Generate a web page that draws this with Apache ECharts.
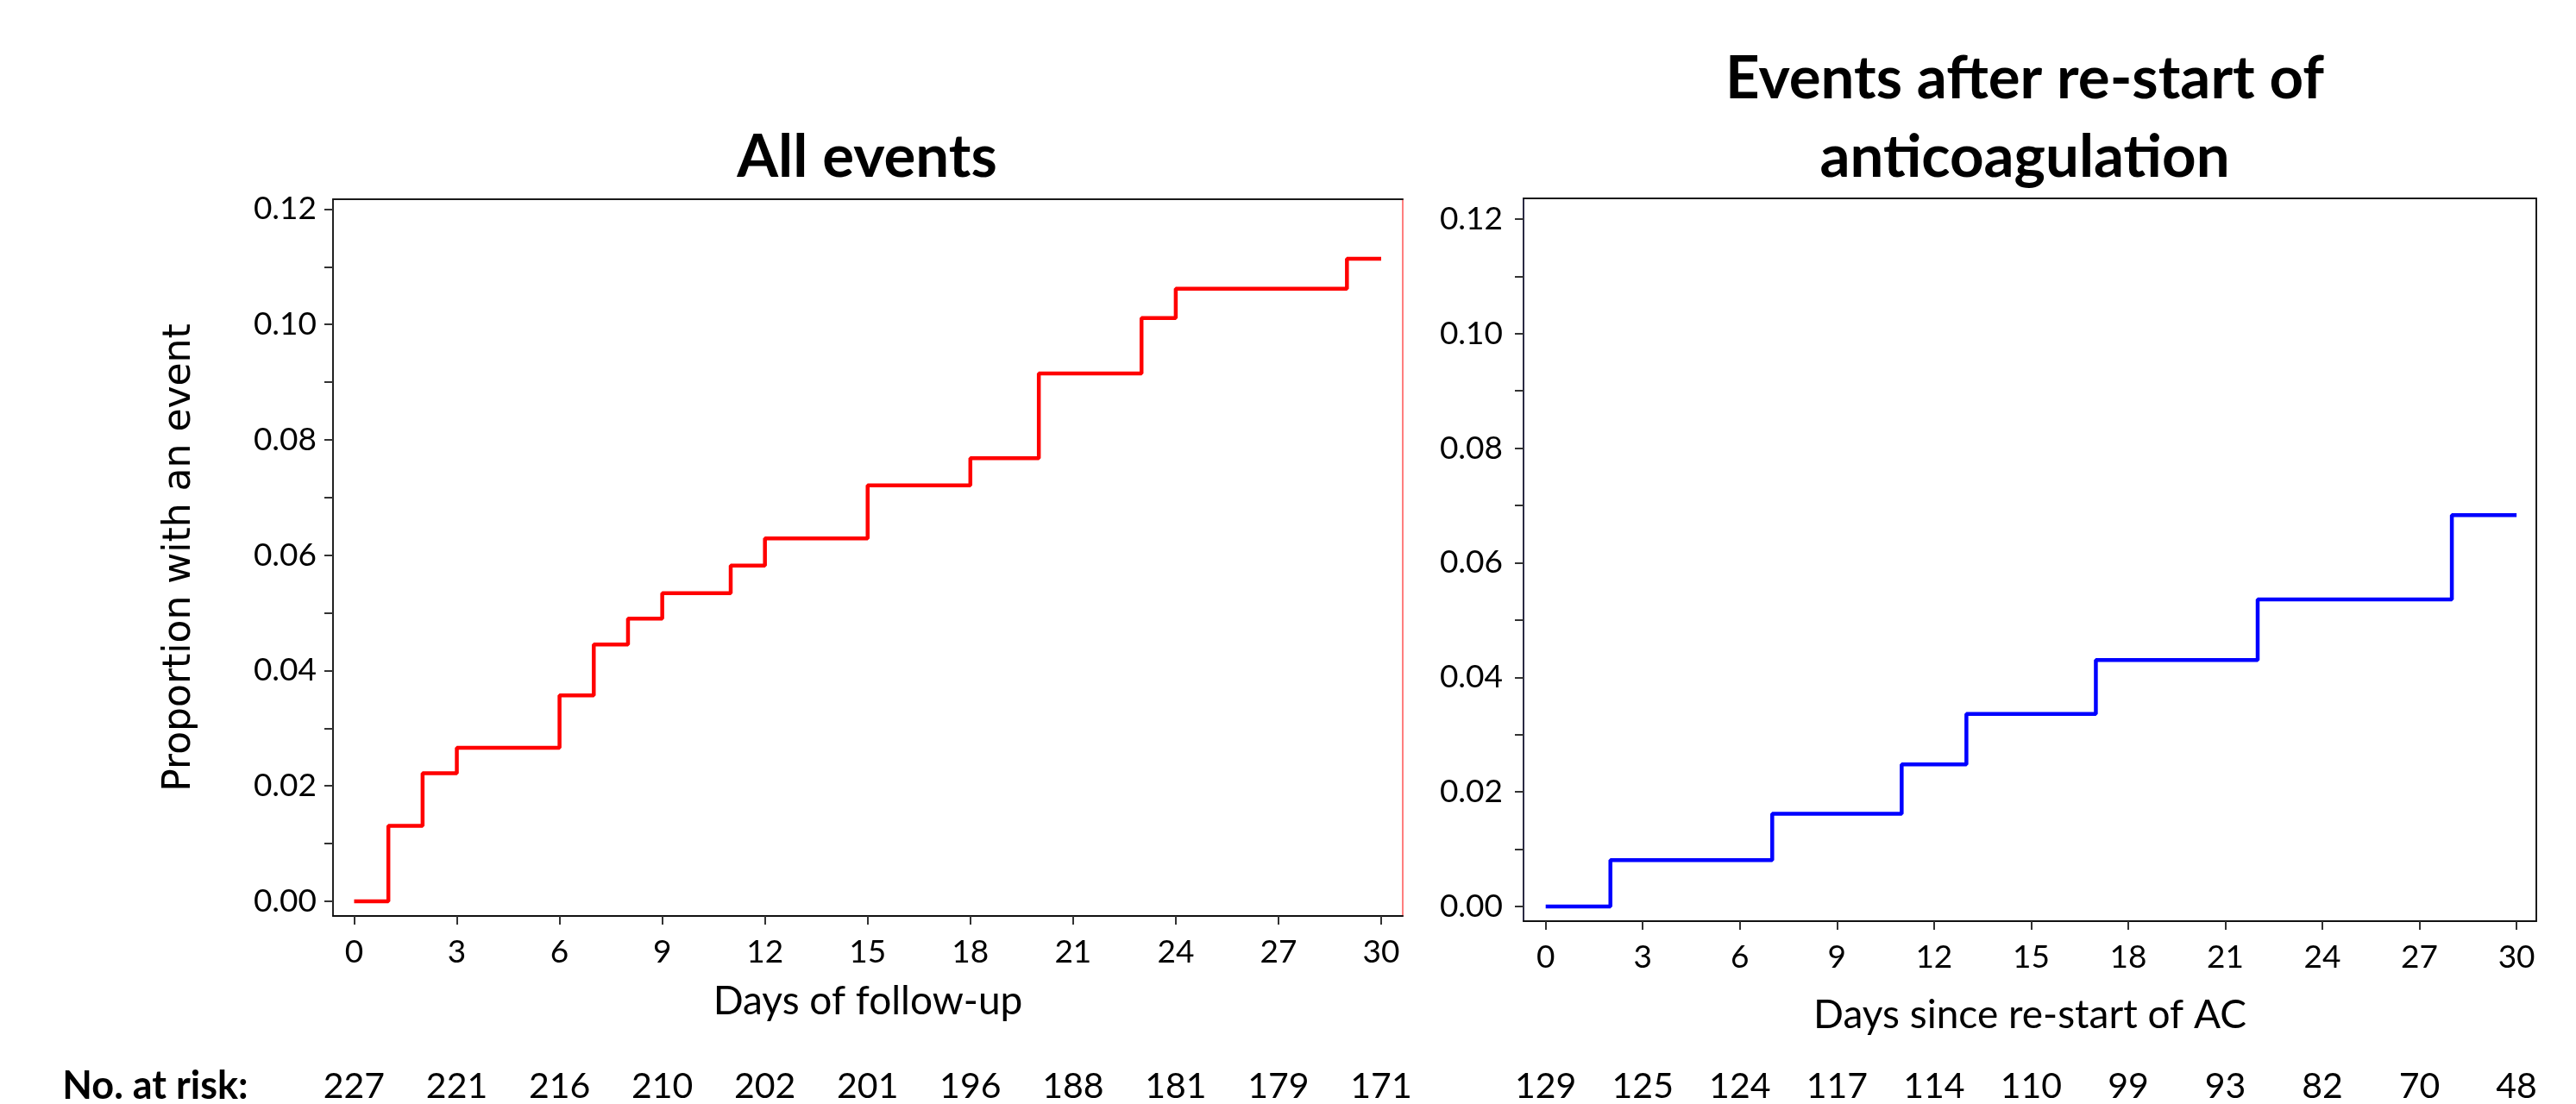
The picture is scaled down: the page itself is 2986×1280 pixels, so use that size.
<!DOCTYPE html>
<html>
<head>
<meta charset="utf-8">
<script src="https://cdn.jsdelivr.net/npm/echarts@6/dist/echarts.min.js"></script>
<style>
html,body{margin:0;padding:0;background:#fff;}
#chart{width:2986px;height:1280px;}
</style>
</head>
<body>
<div id="chart"></div>
<script>
// ---------- data ----------
const xTickDays = [0, 3, 6, 9, 12, 15, 18, 21, 24, 27, 30];
const yTickLabels = [0, 0.02, 0.04, 0.06, 0.08, 0.10, 0.12];
const yTickMarks = [0, 0.01, 0.02, 0.03, 0.04, 0.05, 0.06, 0.07, 0.08, 0.09, 0.10, 0.11, 0.12];

const allDays = [0, 1, 2, 3, 6, 7, 8, 9, 11, 12, 15, 18, 20, 23, 24, 29, 30];
const allProp = [0, 0.0131, 0.0222, 0.0266, 0.0357, 0.0445, 0.0490, 0.0534, 0.0582, 0.0629, 0.0721, 0.0768, 0.0915, 0.1011, 0.1062, 0.1114, 0.1114];

const acDays = [0, 2, 7, 11, 13, 17, 22, 28, 30];
const acProp = [0, 0.0081, 0.0162, 0.0248, 0.0336, 0.0430, 0.0536, 0.0683, 0.0683];

const atRiskAll = [227, 221, 216, 210, 202, 201, 196, 188, 181, 179, 171];
const atRiskAC = [129, 125, 124, 117, 114, 110, 99, 93, 82, 70, 48];

const titleAll = 'All events';
const titleAC1 = 'Events after re-start of';
const titleAC2 = 'anticoagulation';
const xNameAll = 'Days of follow-up';
const xNameAC = 'Days since re-start of AC';
const yName = 'Proportion with an event';
const riskLabel = 'No. at risk:';

// ---------- chart ----------
const FONT = 'Lato';
const chart = echarts.init(document.getElementById('chart'), null, {renderer: 'canvas'});

function zip(xs, ys) { return xs.map((x, i) => [x, ys[i]]); }

const panels = [
  {grid: {left: 386, top: 231, width: 1240, height: 831},
   xmin: -0.617, xmax: 30.63, ymin: -0.00254, ymax: 0.1217,
   xName: xNameAll, xNameGap: 76, yName: yName, risk: atRiskAll, riskOffset: 150,
   rightColor: '#ff7f7f', leftColor: '#222', topColor: '#1a1a1a', yLabelMargin: 19,
   color: '#ff0000', data: zip(allDays, allProp)},
  {grid: {left: 1766, top: 230, width: 1174, height: 838},
   xmin: -0.685, xmax: 30.61, ymin: -0.00256, ymax: 0.1236,
   xName: xNameAC, xNameGap: 86, yName: '', risk: atRiskAC, riskOffset: 144,
   rightColor: '#1a1a1a', leftColor: '#2a2a44', topColor: '#1a1a1a', yLabelMargin: 24,
   color: '#0000ff', data: zip(acDays, acProp)}
];

const grids = [], xAxes = [], yAxes = [], series = [];
panels.forEach((p, i) => {
  grids.push(Object.assign({containLabel: false}, p.grid));
  const xBase = xAxes.length, yBase = yAxes.length;
  // main bottom x axis
  xAxes.push({
    type: 'value', gridIndex: i, position: 'bottom', min: p.xmin, max: p.xmax,
    name: p.xName, nameLocation: 'middle', nameGap: p.xNameGap,
    nameTextStyle: {fontFamily: FONT, fontSize: 46, color: '#000'},
    axisLine: {show: true, onZero: false, lineStyle: {color: '#111', width: 2}},
    axisTick: {show: true, length: 10, customValues: xTickDays, lineStyle: {color: '#333', width: 2}},
    axisLabel: {show: true, customValues: xTickDays, margin: 24, fontFamily: FONT, fontSize: 37, color: '#000'},
    splitLine: {show: false}
  });
  // top border
  xAxes.push({
    type: 'value', gridIndex: i, position: 'top', min: p.xmin, max: p.xmax,
    axisLine: {show: true, onZero: false, lineStyle: {color: p.topColor, width: 2}},
    axisTick: {show: false}, axisLabel: {show: false}, splitLine: {show: false}
  });
  // number at risk row
  xAxes.push({
    type: 'value', gridIndex: i, position: 'bottom', offset: p.riskOffset, min: p.xmin, max: p.xmax,
    axisLine: {show: false}, axisTick: {show: false}, splitLine: {show: false},
    axisLabel: {show: true, customValues: xTickDays, margin: 27, fontFamily: FONT, fontSize: 41, color: '#000',
      formatter: (v) => String(p.risk[Math.round(v / 3)])}
  });
  // left y axis
  yAxes.push({
    type: 'value', gridIndex: i, position: 'left', min: p.ymin, max: p.ymax,
    name: p.yName, nameLocation: 'middle', nameGap: 155, nameRotate: 90,
    nameTextStyle: {fontFamily: 'DejaVu Sans', fontSize: 44, color: '#000'},
    axisLine: {show: true, onZero: false, lineStyle: {color: p.leftColor, width: 2}},
    axisTick: {show: true, length: 10, customValues: yTickMarks, lineStyle: {color: '#333', width: 2}},
    axisLabel: {show: true, customValues: yTickLabels, margin: p.yLabelMargin, fontFamily: FONT, fontSize: 37, color: '#000',
      formatter: (v) => v.toFixed(2)},
    splitLine: {show: false}
  });
  // right border
  yAxes.push({
    type: 'value', gridIndex: i, position: 'right', min: p.ymin, max: p.ymax,
    axisLine: {show: true, onZero: false, lineStyle: {color: p.rightColor, width: 2}},
    axisTick: {show: false}, axisLabel: {show: false}, splitLine: {show: false}
  });
  series.push({
    type: 'line', xAxisIndex: xBase, yAxisIndex: yBase, step: 'end',
    showSymbol: false, symbol: 'none', data: p.data,
    lineStyle: {color: p.color, width: 4.5}, itemStyle: {color: p.color},
    animation: false
  });
});

function txt(text, x, y, font) {
  return {type: 'text', x: x, y: y, silent: true,
    style: {text: text, font: font, fill: '#000', align: 'center', verticalAlign: 'middle',
            textAlign: 'center', textVerticalAlign: 'middle'}};
}

chart.setOption({
  animation: false,
  backgroundColor: '#fff',
  grid: grids,
  xAxis: xAxes,
  yAxis: yAxes,
  series: series,
  graphic: [
    txt(titleAll, 1005, 183, 'bold 69px Lato'),
    txt(titleAC1, 2347, 92, 'bold 69px Lato'),
    txt(titleAC2, 2347, 183, 'bold 69px Lato'),
    txt(riskLabel, 180, 1259, 'bold 45px Lato')
  ]
});
</script>
</body>
</html>
